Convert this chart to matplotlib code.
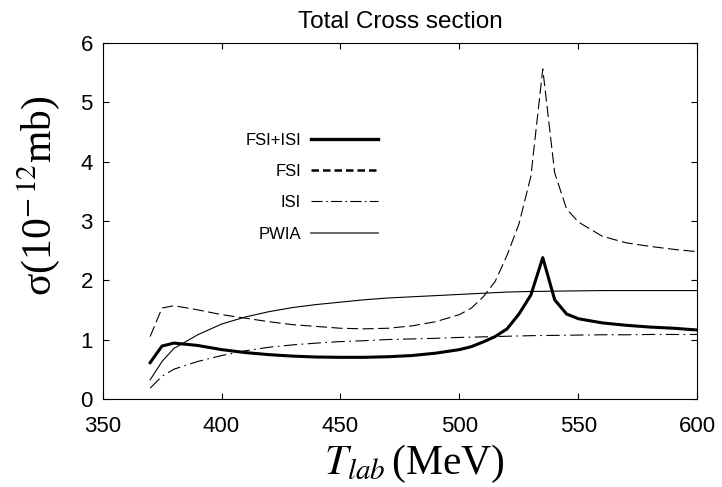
import matplotlib.pyplot as plt
from matplotlib.lines import Line2D

plt.rcParams['font.family'] = ['Liberation Sans', 'DejaVu Sans']
plt.rcParams['mathtext.fontset'] = 'stix'

t_lab = [370, 375, 380, 390, 400, 410, 420, 430, 440, 450, 460, 470, 480, 490,
         500, 505, 510, 515, 520, 525, 530, 535, 540, 545, 550, 560, 570, 580,
         590, 600]

fsi_isi = [0.61, 0.89, 0.94, 0.90, 0.83, 0.78, 0.745, 0.72, 0.705, 0.70, 0.70,
           0.71, 0.73, 0.77, 0.83, 0.88, 0.96, 1.05, 1.18, 1.43, 1.75, 2.38,
           1.67, 1.43, 1.35, 1.28, 1.24, 1.21, 1.19, 1.16]

fsi = [1.05, 1.53, 1.57, 1.50, 1.42, 1.36, 1.30, 1.25, 1.22, 1.19, 1.18, 1.19,
       1.23, 1.30, 1.42, 1.53, 1.72, 1.98, 2.42, 2.95, 3.75, 5.56, 3.81, 3.20,
       2.98, 2.74, 2.63, 2.57, 2.52, 2.48]

isi = [0.18, 0.38, 0.50, 0.63, 0.73, 0.81, 0.87, 0.91, 0.94, 0.965, 0.98, 1.00,
       1.01, 1.02, 1.035, 1.04, 1.045, 1.05, 1.055, 1.06, 1.065, 1.068, 1.07,
       1.072, 1.075, 1.08, 1.08, 1.085, 1.085, 1.085]

pwia = [0.32, 0.63, 0.85, 1.08, 1.26, 1.38, 1.47, 1.54, 1.59, 1.63, 1.67, 1.70,
        1.72, 1.74, 1.76, 1.77, 1.78, 1.79, 1.80, 1.805, 1.81, 1.812, 1.815,
        1.818, 1.82, 1.825, 1.825, 1.825, 1.825, 1.825]

labels = ['FSI+ISI', 'FSI', 'ISI', 'PWIA']

fig = plt.figure(figsize=(7.22, 4.87), dpi=100)
ax = fig.add_axes([0.142, 0.181, 0.824, 0.731])

# curves
ax.plot(t_lab, fsi_isi, color='k', lw=2.2)
ax.plot(t_lab, fsi, color='k', lw=0.8, dashes=(10, 4))
ax.plot(t_lab, isi, color='k', lw=0.8, dashes=(12, 4, 1.5, 4))
ax.plot(t_lab, pwia, color='k', lw=0.8)

ax.set_xlim(350, 600)
ax.set_ylim(0, 6)
ax.set_xticks([350, 400, 450, 500, 550, 600])
ax.set_yticks([0, 1, 2, 3, 4, 5, 6])
ax.tick_params(direction='in', top=True, right=True, length=4.5, width=0.8,
               labelsize=16)
ax.tick_params(axis='y', pad=7)
ax.tick_params(axis='x', pad=12)
for s in ax.spines.values():
    s.set_linewidth(0.8)

ax.set_title('Total Cross section', fontsize=17.5, pad=11)
ax.set_ylabel('σ(10$^{-\\,12}$mb)', family='Liberation Serif', fontsize=30)
ax.yaxis.set_label_coords(-0.068, 0.57)
ax.set_xlabel('$T_{lab}\\,$(MeV)', family='Liberation Serif', fontsize=30)
ax.xaxis.set_label_coords(0.524, -0.125)

# legend (text on the left, sample line on the right)
handles = [
    Line2D([], [], color='k', lw=2.4),
    Line2D([], [], color='k', lw=1.8, dashes=(3, 1.6)),
    Line2D([], [], color='k', lw=0.8, dashes=(10, 3, 1.5, 3)),
    Line2D([], [], color='0.3', lw=1.2),
]
ax.legend(handles, labels, loc='upper left', bbox_to_anchor=(0.215, 0.79),
          markerfirst=False, frameon=False, fontsize=12, handlelength=4.0,
          handletextpad=0.6, labelspacing=0.98)

fig.savefig('out.png', dpi=100)
